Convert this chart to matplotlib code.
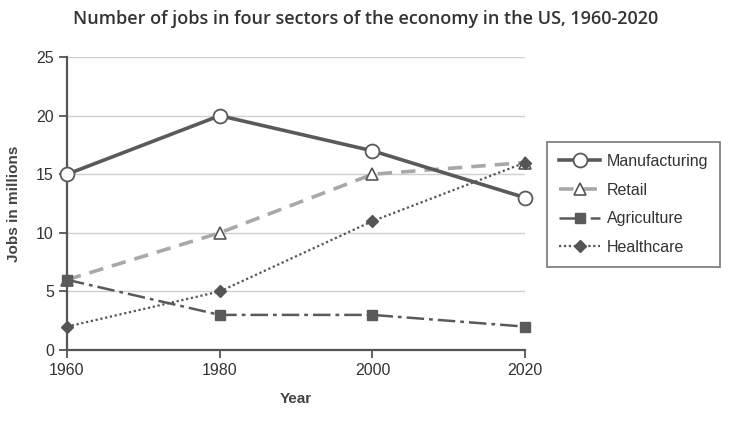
import matplotlib
matplotlib.use("Agg")
import matplotlib.pyplot as plt

years = [1960, 1980, 2000, 2020]
manufacturing = [15, 20, 17, 13]
retail = [6, 10, 15, 16]
agriculture = [6, 3, 3, 2]
healthcare = [2, 5, 11, 16]
yticks = [0, 5, 10, 15, 20, 25]

plt.rcParams['font.family'] = ['Liberation Sans', 'DejaVu Sans']

fig = plt.figure(figsize=(7.32, 4.29), dpi=100)
ax = fig.add_axes([0.0915, 0.184, 0.626, 0.683])

ax.set_xlim(1960, 2020)
ax.set_ylim(0, 25)
ax.set_yticks(yticks)
ax.set_xticks(years)
ax.yaxis.grid(True, color='#d0d0d0', lw=1)
ax.set_axisbelow(True)
for s in ['top', 'right']:
    ax.spines[s].set_visible(False)
for s in ['left', 'bottom']:
    ax.spines[s].set_color('#555555')
    ax.spines[s].set_linewidth(1.6)
    ax.spines[s].set_clip_on(False)
ax.tick_params(axis='both', colors='#555555', labelcolor='#333333', labelsize=11.5, length=6, width=1.3)

ax.plot(years, manufacturing, color='#5a5a5a', lw=2.6, marker='o', ms=10,
        mfc='white', mec='#5a5a5a', mew=1.3, label='Manufacturing', clip_on=False, zorder=4)
ax.plot(years, retail, color='#a8a8a8', lw=2.6, ls=(0, (4, 2.5)), marker='^', ms=9,
        mfc='white', mec='#555555', mew=1.2, label='Retail', clip_on=False, zorder=3)
ax.plot(years, agriculture, color='#5a5a5a', lw=1.8, ls=(0, (7, 2, 1.5, 2)), marker='s', ms=7,
        mfc='#5a5a5a', mec='#5a5a5a', label='Agriculture', clip_on=False, zorder=3)
ax.plot(years, healthcare, color='#555555', lw=1.6, ls=(0, (1, 1.2)), marker='D', ms=6,
        mfc='#555555', mec='#555555', label='Healthcare', clip_on=False, zorder=3)

ax.set_xlabel('Year', fontsize=11, fontweight='bold', color='#444444', labelpad=10)
ax.set_ylabel('Jobs in millions', fontsize=11, fontweight='bold', color='#444444', labelpad=11)

leg = ax.legend(loc='upper left', bbox_to_anchor=(1.03, 0.737), frameon=True, fancybox=False,
                edgecolor='#555555', fontsize=11.5, handlelength=2.6, labelspacing=0.85,
                borderpad=0.75, handletextpad=0.4)
leg.get_frame().set_linewidth(1.2)
for t in leg.get_texts():
    t.set_color('#333333')

fig.text(0.5, 0.955, 'Number of jobs in four sectors of the economy in the US, 1960-2020',
         ha='center', va='center', fontsize=13, fontweight='semibold', color='#333333',
         family=['Open Sans', 'DejaVu Sans'])

fig.savefig('out.png', dpi=100)
